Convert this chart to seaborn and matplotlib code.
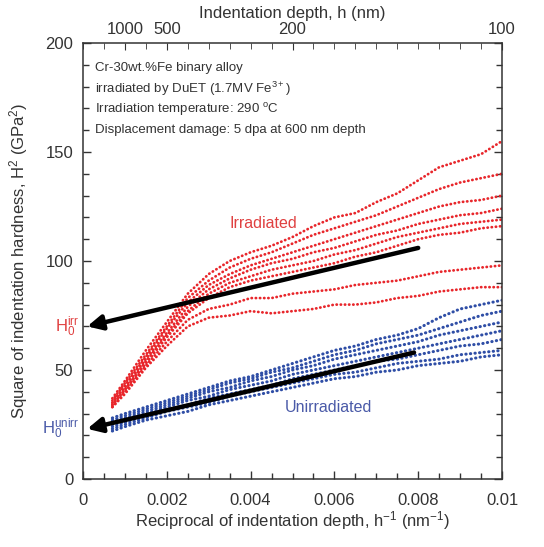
import numpy as np
import pandas as pd
import matplotlib
matplotlib.use("Agg")
import matplotlib.pyplot as plt
import seaborn as sns

# reciprocal indentation depth grid (1/nm) at which values were read
inv_h = [0.0007, 0.001, 0.0015, 0.002, 0.0025, 0.003, 0.0035, 0.004, 0.0045, 0.005,
         0.0055, 0.006, 0.0065, 0.007, 0.0075, 0.008, 0.0085, 0.009, 0.0095, 0.01]

# H^2 (GPa^2), irradiated indents
irr_curves = {
    "R1": [37, 45, 59, 72, 85, 94, 100, 104, 107, 111, 116, 120, 122, 127, 131, 137, 143, 146, 149, 155],
    "R2": [36, 44, 57, 70, 83, 91, 97, 101, 104, 108, 112, 115, 118, 121, 125, 129, 133, 136, 138, 140],
    "R3": [35, 43, 56, 69, 81, 89, 94, 98, 101, 104, 107, 110, 113, 116, 119, 122, 125, 127, 128, 130],
    "R4": [35, 42, 55, 67, 79, 87, 92, 96, 99, 101, 104, 106, 109, 112, 114, 117, 119, 121, 122, 124],
    "R5": [34, 41, 54, 66, 77, 85, 90, 93, 96, 98, 100, 103, 105, 108, 111, 113, 115, 117, 118, 119],
    "R6": [34, 41, 53, 65, 76, 83, 88, 91, 93, 95, 97, 99, 102, 104, 107, 110, 112, 113, 115, 116],
    "L1": [33, 40, 52, 63, 73, 78, 80, 83, 83, 85, 86, 87, 89, 90, 91, 93, 95, 96, 97, 98],
    "L2": [33, 39, 51, 61, 70, 74, 75, 77, 76, 77, 78, 80, 80, 81, 83, 84, 86, 87, 88, 88],
}

# H^2 (GPa^2), unirradiated indents
unirr_curves = {
    "B1": [28, 30, 33, 36, 39, 42, 45, 47, 50, 53, 56, 59, 61, 64, 66, 69, 74, 78, 80, 82],
    "B2": [27, 29, 32, 35, 38, 41, 44, 46, 49, 51, 54, 57, 59, 62, 64, 66, 69, 72, 75, 77],
    "B3": [26, 28, 31, 34, 37, 40, 42, 45, 47, 50, 52, 55, 57, 59, 61, 63, 66, 68, 70, 72],
    "B4": [25, 27, 30, 33, 36, 38, 41, 43, 45, 48, 50, 52, 54, 56, 58, 60, 62, 64, 66, 68],
    "B5": [24, 26, 29, 32, 34, 37, 39, 41, 43, 46, 48, 50, 52, 54, 55, 57, 59, 61, 62, 64],
    "B6": [23, 25, 28, 31, 33, 35, 38, 40, 42, 44, 46, 48, 49, 51, 53, 54, 55, 57, 58, 59],
    "B7": [22, 24, 27, 29, 31, 34, 36, 38, 40, 42, 44, 46, 47, 49, 50, 52, 53, 54, 56, 57],
}

# Nix-Gao fits: intercept H0^2 and end point of the fitted line
h0_irr, fit_irr_end = 70, (0.0080, 106)
h0_unirr, fit_unirr_end = 23, (0.0079, 58)

top_ticks = [0.001, 0.002, 0.005, 0.01]
top_labels = ["1000", "500", "200", "100"]

notes = ["Cr-30wt.%Fe binary alloy",
         r"irradiated by DuET (1.7MV Fe$^{3+}$)",
         r"Irradiation temperature: 290 $^{\rm o}$C",
         "Displacement damage: 5 dpa at 600 nm depth"]


def to_long(curves):
    rows = []
    for name, vals in curves.items():
        for x, y in zip(inv_h, vals):
            rows.append((name, x, y))
    return pd.DataFrame(rows, columns=["curve", "inv_h", "h2"])


sns.set_style("ticks")
plt.rcParams["font.family"] = ["Liberation Sans", "DejaVu Sans"]
plt.rcParams["mathtext.fontset"] = "custom"
plt.rcParams["mathtext.rm"] = "Liberation Sans"
plt.rcParams["mathtext.it"] = "Liberation Sans:italic"
plt.rcParams["text.color"] = "#333333"
plt.rcParams["axes.labelcolor"] = "#333333"
plt.rcParams["xtick.color"] = "#333333"
plt.rcParams["ytick.color"] = "#333333"

red = "#e8262b"
blue = "#2f4ea6"

fig = plt.figure(figsize=(5.44, 5.47), dpi=100)
ax = fig.add_axes([0.1526, 0.1243, 0.7702, 0.7971])

sns.lineplot(data=to_long(irr_curves), x="inv_h", y="h2", units="curve", estimator=None,
             sort=False, color=red, lw=2.0, ax=ax)
sns.lineplot(data=to_long(unirr_curves), x="inv_h", y="h2", units="curve", estimator=None,
             sort=False, color=blue, lw=2.2, ax=ax)
for ln in ax.lines:
    ln.set_linestyle((0, (0.1, 1.4)))
    ln.set_dash_capstyle("round")

ax.set_xlim(0, 0.01)
ax.set_ylim(0, 200)
ax.set_xticks([0, 0.002, 0.004, 0.006, 0.008, 0.01])
ax.set_xticklabels(["0", "0.002", "0.004", "0.006", "0.008", "0.01"])
ax.set_xticks(np.arange(0, 0.0101, 0.0005), minor=True)
ax.set_yticks([0, 50, 100, 150, 200])
ax.set_yticks(np.arange(0, 201, 10), minor=True)
ax.tick_params(which="both", direction="in", right=True, labelsize=12, width=1)
ax.tick_params(axis="x", pad=10)
ax.tick_params(axis="y", pad=7)
ax.tick_params(which="major", length=6)
ax.tick_params(which="minor", length=4)
for sp in ax.spines.values():
    sp.set_color("#333333")
    sp.set_linewidth(1.1)

ax.set_xlabel(r"Reciprocal of indentation depth, h$^{-1}$ (nm$^{-1}$)", fontsize=12, labelpad=1)
ax.set_ylabel(r"Square of indentation hardness, H$^2$ (GPa$^2$)", fontsize=12, labelpad=11)

top = ax.twiny()
top.set_xlim(ax.get_xlim())
top.set_xticks(top_ticks)
top.set_xticklabels(top_labels)
top.set_xticks(np.arange(0, 0.0101, 0.0005), minor=True)
top.tick_params(which="both", direction="in", labelsize=12, pad=4)
top.tick_params(which="major", length=5)
top.tick_params(which="minor", length=4)
top.set_xlabel("Indentation depth, h (nm)", fontsize=12, labelpad=3)
for sp in top.spines.values():
    sp.set_visible(False)

for i, t in enumerate(notes):
    ax.text(0.00028, 188.5 - 9.4 * i, t, fontsize=9.5, va="center", ha="left", color="#333333")

ax.text(0.0043, 117, "Irradiated", fontsize=11.5, color="#e04040", ha="center", va="center")
ax.text(0.00585, 33, "Unirradiated", fontsize=11.5, color="#4a5aa8", ha="center", va="center")

arrow = dict(arrowstyle="-|>", color="black", lw=3.2, mutation_scale=22, shrinkA=0, shrinkB=0)
ax.annotate("", xy=(0.0001, h0_irr), xytext=fit_irr_end, arrowprops=arrow)
ax.annotate("", xy=(0.0001, h0_unirr), xytext=fit_unirr_end, arrowprops=arrow)

ax.text(-0.0001, h0_irr, r"H$_0^{\rm irr}$", fontsize=12, color="#e04040", ha="right",
        va="center", clip_on=False)
ax.text(-0.0001, h0_unirr, r"H$_0^{\rm unirr}$", fontsize=12, color="#4a5aa8", ha="right",
        va="center", clip_on=False)

fig.savefig("out.png", dpi=100)
